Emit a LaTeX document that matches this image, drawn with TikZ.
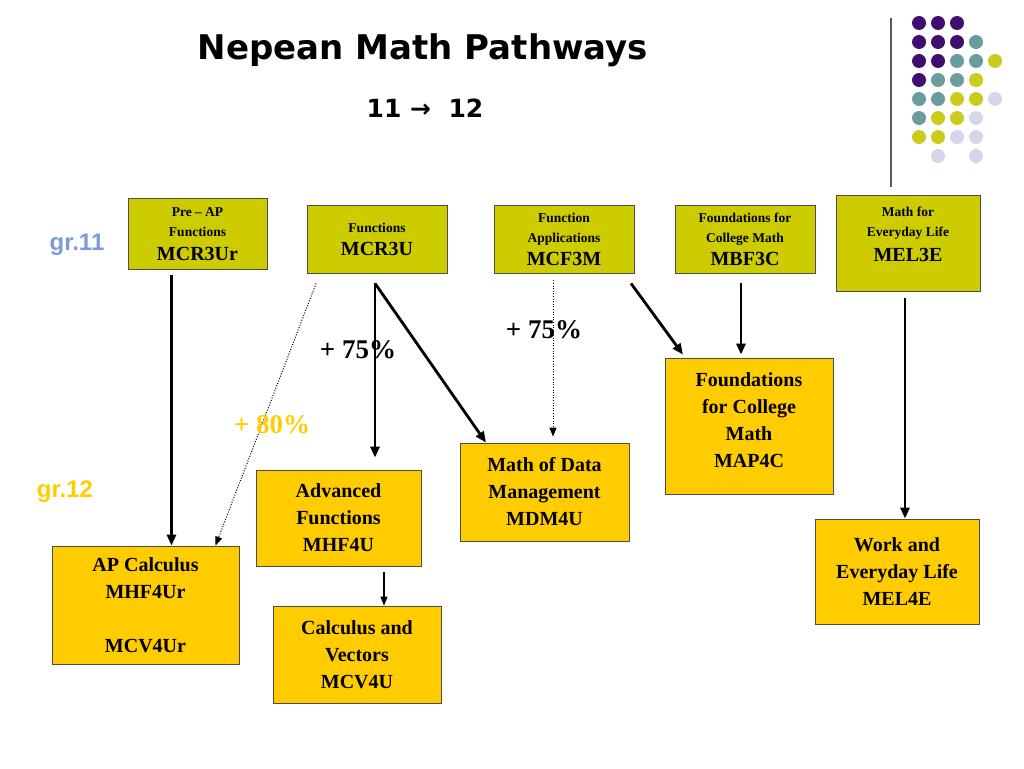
\documentclass[tikz,border=0pt]{standalone}
\usepackage{fontspec}
\setmainfont{Liberation Serif}
\newfontfamily\titlefont{DejaVu Sans}
\newfontfamily\gradefont{Liberation Sans}
\usetikzlibrary{arrows.meta,calc}
\definecolor{OliveBox}{HTML}{CCCC00}
\definecolor{GoldBox}{HTML}{FFCC00}
\definecolor{GradeBlue}{HTML}{7B9BDB}
\definecolor{DotPurple}{HTML}{3F0E6E}
\definecolor{DotTeal}{HTML}{6A9C9E}
\definecolor{DotLime}{HTML}{CBCB1E}
\definecolor{DotLilac}{HTML}{D6D6EA}
\definecolor{RuleGray}{HTML}{5A5A5A}
\newcommand{\coursecode}[1]{{\fontsize{20}{20}\selectfont #1}}

\tikzset{
  elevenbox/.style={draw=black!70, fill=OliveBox, line width=0.8pt, align=center,
    inner sep=2pt, font=\bfseries\fontsize{13.5}{20}\selectfont},
  twelvebox/.style={draw=black!70, fill=GoldBox, line width=0.8pt, align=center,
    inner sep=2pt, font=\bfseries\fontsize{20}{27}\selectfont},
  bigarrow/.style={line width=2.8pt, -{Triangle[length=11pt,width=9pt]}},
  smallarrow/.style={line width=1.4pt, -{Triangle[length=9pt,width=7pt]}},
  dotarrow/.style={line width=1pt, dash pattern=on 1pt off 1.6pt, -{Triangle[length=9pt,width=7pt]}},
  pctlabel/.style={font=\bfseries\fontsize{27}{29}\selectfont}
}

\begin{document}
\begin{tikzpicture}[x=1pt,y=-1pt]
  \useasboundingbox (0,0) rectangle (1024,768);

  % heading
  \node (title) at (423,50) {\titlefont\bfseries\fontsize{34}{36}\selectfont Nepean Math Pathways};
  \node (years) at (425,108) {\titlefont\bfseries\fontsize{25}{27}\selectfont 11 → \ 12};

  % corner ornament
  \draw[RuleGray, line width=1.2pt] (891,18) -- (891,187);
  \foreach \c/\r/\col in {0/0/DotPurple, 1/0/DotPurple, 2/0/DotPurple,
      0/1/DotPurple, 1/1/DotPurple, 2/1/DotPurple, 3/1/DotTeal,
      0/2/DotPurple, 1/2/DotPurple, 2/2/DotTeal, 3/2/DotTeal, 4/2/DotLime,
      0/3/DotPurple, 1/3/DotTeal, 2/3/DotTeal, 3/3/DotLime,
      0/4/DotTeal, 1/4/DotTeal, 2/4/DotLime, 3/4/DotLime, 4/4/DotLilac,
      0/5/DotTeal, 1/5/DotLime, 2/5/DotLime, 3/5/DotLilac,
      0/6/DotLime, 1/6/DotLime, 2/6/DotLilac, 3/6/DotLilac,
      1/7/DotLilac, 3/7/DotLilac}
    \fill[\col] (919+19*\c,23+19*\r) circle (7pt);

  % grade labels
  \node[text=GradeBlue, font=\gradefont\bfseries\fontsize{24}{26}\selectfont] (gr11) at (77,245) {gr.11};
  \node[text=GoldBox, font=\gradefont\bfseries\fontsize{24}{26}\selectfont] (gr12) at (65,492) {gr.12};

  % grade 11 courses
  \node[elevenbox, minimum width=139pt, minimum height=71pt] (preap) at (197.5,234)
    {Pre -- AP\\Functions\\[4pt]\coursecode{MCR3Ur}};
  \node[elevenbox, minimum width=140pt, minimum height=68pt] (func) at (377,239)
    {Functions\\[3pt]\coursecode{MCR3U}};
  \node[elevenbox, minimum width=140pt, minimum height=68pt] (fapp) at (564,239)
    {Function\\Applications\\[3pt]\coursecode{MCF3M}};
  \node[elevenbox, minimum width=140pt, minimum height=68pt] (fcoll) at (745,239)
    {Foundations for\\College Math\\[3pt]\coursecode{MBF3C}};
  \node[elevenbox, minimum width=144pt, minimum height=96pt,
    label={[elevenbox, draw=none, fill=none, yshift=9pt]center:{Math for\\Everyday Life\\[5pt]\coursecode{MEL3E}}}]
    (everyday) at (908,243) {};

  % grade 12 courses
  \node[twelvebox, minimum width=187pt, minimum height=118pt] (apcalc) at (145.5,605)
    {AP Calculus\\MHF4Ur\\[27pt]MCV4Ur};
  \node[twelvebox, minimum width=165pt, minimum height=96pt] (advfn) at (338.5,518)
    {Advanced\\Functions\\MHF4U};
  \node[twelvebox, minimum width=168pt, minimum height=97pt] (calcvec) at (357,654.5)
    {Calculus and\\Vectors\\MCV4U};
  \node[twelvebox, minimum width=169pt, minimum height=98pt] (datamgmt) at (544.5,492)
    {Math of Data\\Management\\MDM4U};
  \node[twelvebox, minimum width=168pt, minimum height=136pt,
    label={[twelvebox, draw=none, fill=none, yshift=6pt]center:{Foundations\\for College\\Math\\MAP4C}}]
    (college) at (749,426) {};
  \node[twelvebox, minimum width=164pt, minimum height=105pt] (worklife) at (897,571.5)
    {Work and\\Everyday Life\\MEL4E};

  % pathways
  \draw[bigarrow] ([xshift=-26pt,yshift=-5pt]preap.south) -- ([xshift=26pt]apcalc.north);
  \draw[bigarrow] ([xshift=-2pt,yshift=-10pt]func.south) -- ([xshift=36.5pt,yshift=12pt]advfn.north);
  \draw[bigarrow] ([xshift=-2pt,yshift=-10pt]func.south) -- ([xshift=-58.5pt]datamgmt.north);
  \draw[dotarrow] ([xshift=-61pt,yshift=-10pt]func.south) -- ([xshift=70pt]apcalc.north);
  \draw[dotarrow] ([xshift=-11pt,yshift=-7pt]fapp.south) -- ([xshift=8.5pt,yshift=6pt]datamgmt.north);
  \draw[bigarrow] ([xshift=67pt,yshift=-10pt]fapp.south) -- ([xshift=-66pt,yshift=3pt]college.north);
  \draw[bigarrow] ([xshift=-4pt,yshift=-10pt]fcoll.south) -- ([xshift=-8pt,yshift=3pt]college.north);
  \draw[bigarrow] ([xshift=-3pt,yshift=-7pt]everyday.south) -- ([xshift=8pt]worklife.north);
  \draw[smallarrow] ([xshift=45.5pt,yshift=-6pt]advfn.south) -- ([xshift=27pt]calcvec.north);

  % grade thresholds
  \node[pctlabel] (func75) at (358,350) {+ 75\%};
  \node[pctlabel] (fapp75) at (544,330) {+ 75\%};
  \node[pctlabel, text=GoldBox] (func80) at (272,425) {+ 80\%};
\end{tikzpicture}
\end{document}
